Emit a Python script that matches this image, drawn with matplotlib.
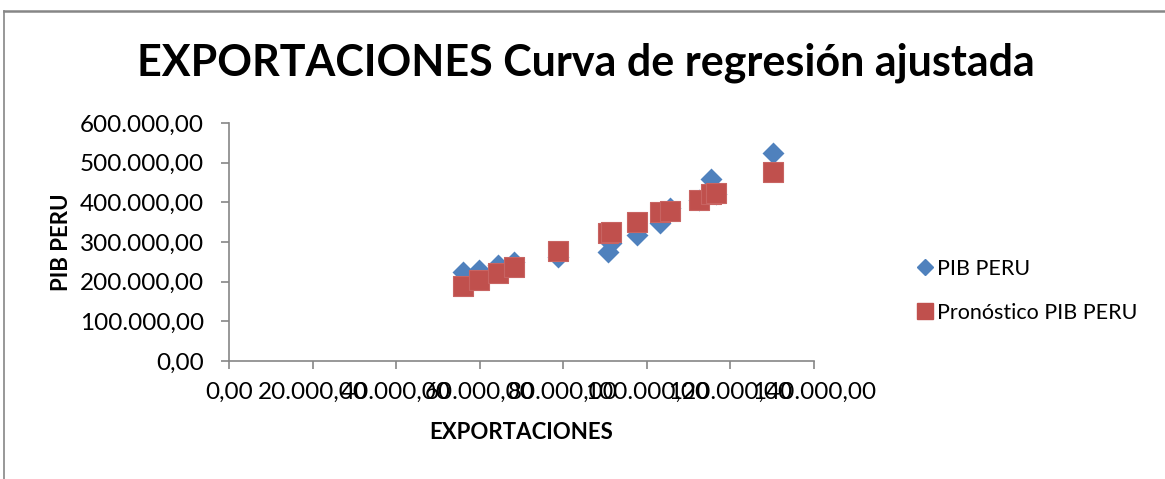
import matplotlib.pyplot as plt
from matplotlib.lines import Line2D
from matplotlib.ticker import FuncFormatter

plt.rcParams['font.family'] = ['Lato', 'DejaVu Sans']

# Exportaciones (eje X) y PIB observado / pronosticado
exportaciones = [55960, 59710, 64260, 68260, 78630, 90690, 91410,
                 97640, 103220, 105450, 112400, 115370, 116470, 130120]
pib_peru = [225000, 229000, 242000, 250000, 262000, 275000, 297000,
            317000, 348000, 385000, 405000, 458000, 420000, 525000]
pronostico = [189000, 204000, 221000, 236000, 277000, 322000, 326000,
              350000, 376000, 379000, 407000, 420000, 424000, 477000]

x_ticks = [0, 20000, 40000, 60000, 80000, 100000, 120000, 140000]
y_ticks = [0, 100000, 200000, 300000, 400000, 500000, 600000]

BLUE = '#4F81BD'
RED = '#C0504D'
GRAY = '#868686'


def miles(v, pos=None):
    # formato español: punto de miles, coma decimal
    s = f'{v:,.2f}'
    return s.replace(',', '_').replace('.', ',').replace('_', '.')


fig = plt.figure(figsize=(11.65, 4.79), dpi=100)
ax = fig.add_axes([0.1966, 0.2463, 0.5021, 0.4969])

ax.scatter(exportaciones, pib_peru, marker='D', s=125, color=BLUE,
           linewidths=0, zorder=3, label='PIB PERU')
ax.scatter(exportaciones, pronostico, marker='s', s=210, color=RED,
           edgecolors='#C86462', linewidths=0.8, zorder=4,
           label='Pronóstico PIB PERU')

ax.set_xlim(0, 140000)
ax.set_ylim(0, 600000)
ax.set_xticks(x_ticks)
ax.set_yticks(y_ticks)
ax.xaxis.set_major_formatter(FuncFormatter(miles))
ax.yaxis.set_major_formatter(FuncFormatter(miles))

for side in ['top', 'right']:
    ax.spines[side].set_visible(False)
for side in ['left', 'bottom']:
    ax.spines[side].set_color(GRAY)
    ax.spines[side].set_linewidth(1.2)
ax.tick_params(axis='both', colors=GRAY, length=6, width=1.2,
               labelcolor='black', labelsize=17.5)
ax.tick_params(axis='x', pad=9)
ax.tick_params(axis='y', pad=12)

ax.set_xlabel('EXPORTACIONES', fontsize=16, fontweight='bold', labelpad=14)
ax.set_ylabel('PIB PERU', fontsize=16, fontweight='bold', labelpad=6)

fig.text(0.503, 0.868, 'EXPORTACIONES Curva de regresión ajustada',
         ha='center', va='center', fontsize=31, fontweight='bold')

handles = [
    Line2D([], [], marker='D', linestyle='none', color=BLUE, markersize=8),
    Line2D([], [], marker='s', linestyle='none', color=RED, markersize=12),
]
fig.legend(handles, ['PIB PERU', 'Pronóstico PIB PERU'],
           loc='center left', bbox_to_anchor=(0.770, 0.393), frameon=False,
           fontsize=15.5, handlelength=0.8, handletextpad=0.15,
           labelspacing=1.1)

# marco del área del gráfico
fig.add_artist(Line2D([4 / 1165, 1.0], [1 - 11 / 479] * 2,
                      transform=fig.transFigure, color=GRAY, linewidth=1.8))
fig.add_artist(Line2D([4 / 1165] * 2, [0.0, 1 - 11 / 479],
                      transform=fig.transFigure, color=GRAY, linewidth=1.2))

fig.savefig('out.png', dpi=100)
